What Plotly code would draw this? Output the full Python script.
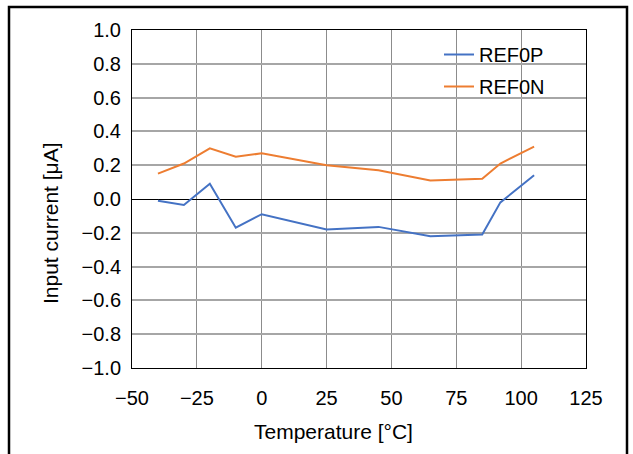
import plotly.graph_objects as go

temps = [-40, -30, -20, -10, 0, 25, 45, 65, 85, 92, 105]
ref0p = [-0.01, -0.035, 0.09, -0.17, -0.09, -0.18, -0.165, -0.22, -0.21, -0.02, 0.14]
ref0n = [0.15, 0.21, 0.30, 0.25, 0.27, 0.20, 0.17, 0.11, 0.12, 0.21, 0.31]
x_ticks = [-50, -25, 0, 25, 50, 75, 100, 125]
x_labels = ["\u221250", "\u221225", "0", "25", "50", "75", "100", "125"]
y_ticks = [-1.0, -0.8, -0.6, -0.4, -0.2, 0.0, 0.2, 0.4, 0.6, 0.8, 1.0]
y_labels = [("\u2212" if v < 0 else "") + f"{abs(v):.1f}" for v in y_ticks]
x_title = "Temperature [\u00b0C]"
y_title = "Input current [\u03bcA]"

fig = go.Figure()
fig.add_trace(go.Scatter(x=temps, y=ref0p, mode="lines", name="REF0P", legendgroup="a",
                         line=dict(color="#4472C4", width=2)))
fig.add_trace(go.Scatter(x=temps, y=ref0n, mode="lines", name="REF0N", legendgroup="b",
                         line=dict(color="#ED7D31", width=2)))

fam = "Liberation Sans, Arial, sans-serif"
font = dict(family=fam, size=20, color="#000000")
tfont = dict(family=fam, size=21, color="#000000")
W, H = 633, 454
L, R, T, B = 132, 47, 30, 86
pw, ph = W - L - R, H - T - B


def px(v):
    return (v - L) / pw


def py(v):
    return (H - B - v) / ph


fig.update_layout(
    width=W, height=H,
    margin=dict(l=L, r=R, t=T, b=B),
    paper_bgcolor="white", plot_bgcolor="white",
    font=font,
    showlegend=True,
    legend=dict(x=px(439), y=py(35), xanchor="left", yanchor="top",
                bgcolor="rgba(0,0,0,0)", borderwidth=0, font=font,
                itemwidth=30, tracegroupgap=3),
    xaxis=dict(range=[-50, 125], tickvals=x_ticks, ticktext=x_labels,
               showgrid=True, gridcolor="#8c8c8c", gridwidth=1,
               zeroline=False, showline=True, linecolor="#000000", linewidth=1,
               mirror=True, ticks="", ticklabelstandoff=12, tickfont=font),
    yaxis=dict(range=[-1.0, 1.0], tickvals=y_ticks, ticktext=y_labels,
               showgrid=True, gridcolor="#a6a6a6", gridwidth=1.5,
               zeroline=True, zerolinecolor="#000000", zerolinewidth=1,
               showline=True, linecolor="#000000", linewidth=1,
               mirror=True, ticks="", ticklabelstandoff=6, tickfont=font),
)

# legend background box
fig.add_shape(type="rect", xref="paper", yref="paper",
              x0=px(430), x1=px(556), y0=py(102), y1=py(38),
              line=dict(width=0), fillcolor="white", layer="between")

fig.add_annotation(text=x_title, xref="paper", yref="paper", x=px(333), y=py(431),
                   xanchor="center", yanchor="middle", showarrow=False, font=tfont)
fig.add_annotation(text=y_title, xref="paper", yref="paper", x=px(51), y=py(223),
                   xanchor="center", yanchor="middle", showarrow=False, font=tfont,
                   textangle=-90)

# outer frame around the chart
fig.add_shape(type="rect", xref="paper", yref="paper",
              x0=px(9), x1=px(627), y0=py(470), y1=py(7),
              line=dict(color="#000000", width=2.5), fillcolor="rgba(0,0,0,0)",
              layer="above")

fig.write_html("out.html", config={"displayModeBar": False},
               post_script="document.body.style.margin='0px';")
